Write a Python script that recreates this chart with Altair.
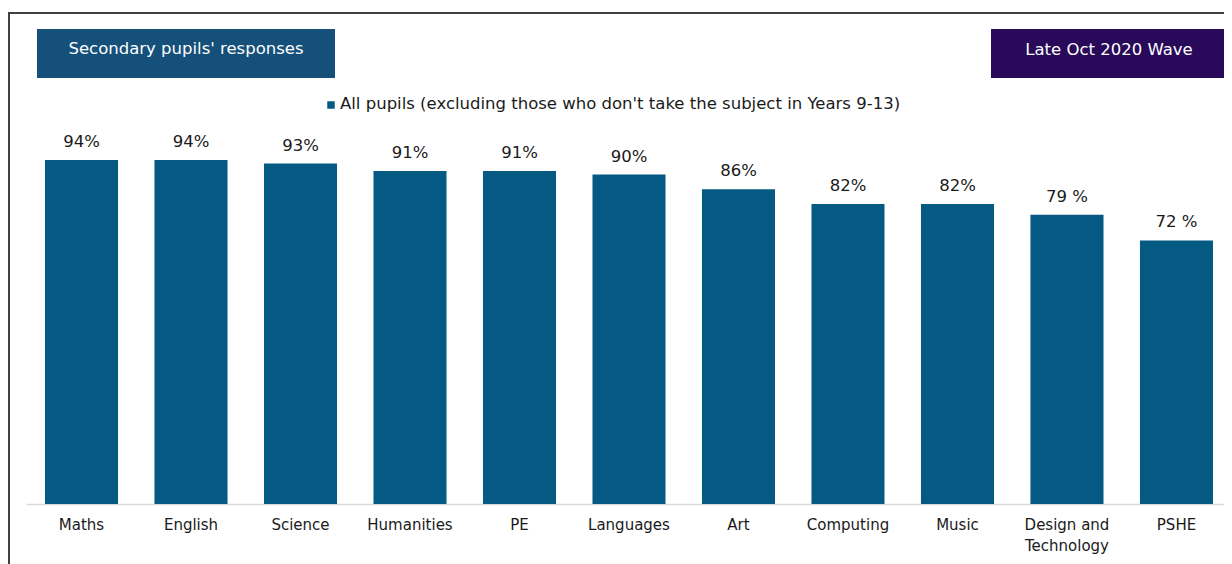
import altair as alt
import pandas as pd

subjects = ["Maths", "English", "Science", "Humanities", "PE", "Languages", "Art",
            "Computing", "Music", "Design and\nTechnology", "PSHE"]
values = [94, 94, 93, 91, 91, 90, 86, 82, 82, 79, 72]
labels = ["94%", "94%", "93%", "91%", "91%", "90%", "86%", "82%", "82%", "79 %", "72 %"]
legend_text = "All pupils (excluding those who don't take the subject in Years 9-13)"
left_box_text = "Secondary pupils' responses"
right_box_text = "Late Oct 2020 Wave"

df = pd.DataFrame({"subject": subjects, "value": values, "label": labels})
one = pd.DataFrame({"a": [0]})

FONT = "DejaVu Sans"
BAR = "#045a83"

x_enc = alt.X("subject:N", sort=subjects, title=None,
              scale=alt.Scale(paddingInner=0.333, paddingOuter=0.137, align=0.633),
              axis=alt.Axis(labelAngle=0, ticks=False, domainColor="#d9d9d9", domainWidth=1.5,
                            labelFont=FONT, labelFontSize=15, labelColor="#1a1a1a",
                            labelPadding=13, labelLineHeight=21, labelLimit=200,
                            labelExpr="split(datum.value, '\\n')"))
y_enc = alt.Y("value:Q", scale=alt.Scale(domain=[0, 100], nice=False), axis=None)

bars = alt.Chart(df).mark_bar(color=BAR).encode(x=x_enc, y=y_enc)
texts = alt.Chart(df).mark_text(font=FONT, fontSize=16.5, color="#1a1a1a",
                                baseline="alphabetic", dy=-13).encode(
    x=alt.X("subject:N", sort=subjects), y="value:Q", text="label:N")

frame = alt.Chart(one).mark_rect(fill=None, stroke="#404040", strokeWidth=2).encode(
    x=alt.value(-17), x2=alt.value(1400), y=alt.value(-125), y2=alt.value(700))

left_box = alt.Chart(one).mark_rect(color="#15507a").encode(
    x=alt.value(11), x2=alt.value(309), y=alt.value(-109), y2=alt.value(-60))
left_txt = alt.Chart(one).mark_text(font=FONT, fontSize=16.5, color="white",
                                    align="center", baseline="middle").encode(
    x=alt.value(160), y=alt.value(-89), text=alt.value(left_box_text))

right_box = alt.Chart(one).mark_rect(color="#28095a").encode(
    x=alt.value(965), x2=alt.value(1210), y=alt.value(-109), y2=alt.value(-60))
right_txt = alt.Chart(one).mark_text(font=FONT, fontSize=16.5, color="white",
                                     align="center", baseline="middle").encode(
    x=alt.value(1083), y=alt.value(-88), text=alt.value(right_box_text))

leg_sq = alt.Chart(one).mark_square(color=BAR, size=56, opacity=1).encode(
    x=alt.value(305), y=alt.value(-33))
leg_txt = alt.Chart(one).mark_text(font=FONT, fontSize=16.5, color="#1a1a1a",
                                   align="left", baseline="middle").encode(
    x=alt.value(314), y=alt.value(-34), text=alt.value(legend_text))

chart = alt.layer(frame, left_box, left_txt, right_box, right_txt, leg_sq, leg_txt,
                  bars, texts).properties(
    width=1198, height=366,
    autosize=alt.AutoSizeParams(type="none"),
    padding={"left": 18, "top": 130, "right": 0, "bottom": 60},
    background="white",
).configure_view(strokeWidth=0)

chart.save("out.html", embed_options={"renderer": "svg", "actions": False})
